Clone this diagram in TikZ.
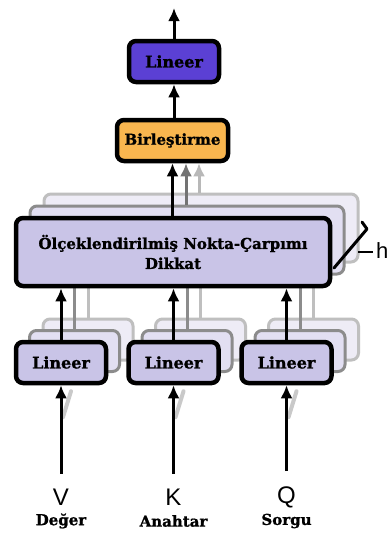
\documentclass[tikz,border=0pt]{standalone}
\usepackage{fontspec}
\setmainfont{DejaVu Serif}[BoldFeatures={FakeBold=1.2}]
\newfontfamily\symfont{Liberation Sans}
\usetikzlibrary{arrows.meta,calc}
\definecolor{linpurple}{HTML}{5B40D4}
\definecolor{mergeorange}{HTML}{F9B64F}
\definecolor{lavender}{HTML}{C9C4E7}
\definecolor{lavendertwo}{HTML}{E2DFF2}
\definecolor{lavenderthree}{HTML}{EEECF6}
\tikzset{
  box/.style={draw=black, line width=4.5pt, rounded corners=7pt, align=center,
    font=\bfseries\fontsize{16}{19}\selectfont, inner sep=0pt},
  ghosttwo/.style={draw=black!45, line width=3pt, rounded corners=7pt, fill=lavendertwo, inner sep=0pt},
  ghostthree/.style={draw=black!25, line width=3pt, rounded corners=7pt, fill=lavenderthree, inner sep=0pt},
  tip/.style={-{Latex[length=13pt,width=12pt]}},
  arr/.style={line width=3pt, tip},
  grayarr/.style={line width=3pt, draw=black!55, tip, fill=black!55},
  lightarr/.style={line width=3pt, draw=black!28, tip, fill=black!28},
  ghostline/.style={line width=3pt},
  symlab/.style={font=\symfont\fontsize{24}{24}\selectfont, inner sep=0pt},
  wordlab/.style={font=\bfseries\fontsize{15}{16}\selectfont, inner sep=0pt},
}
\begin{document}
\begin{tikzpicture}[x=1pt,y=-1pt]
\useasboundingbox (0,0) rectangle (390,533);
\fill[white] (0,0) rectangle (390,533);

% stacked heads of the attention block
\node[ghostthree, minimum width=314pt, minimum height=68pt] (att3) at (201,228) {};
\node[ghosttwo, minimum width=314pt, minimum height=68pt] (att2) at (187,240) {};

% stacked heads of the three linear projections
\foreach \i/\cx in {1/61,2/173.5,3/286.5}{
  \node[ghostthree, minimum width=90pt, minimum height=41pt] (lthree\i) at (\cx+27,339.5) {};
  \node[ghosttwo, minimum width=90pt, minimum height=41pt] (ltwo\i) at (\cx+13.5,351) {};
  \draw[ghostline, draw=black!25] (lthree\i.north) -- (att3.south -| lthree\i.north);
  \draw[ghostline, draw=black!45] (ltwo\i.north) -- (att2.south -| ltwo\i.north);
}

% main blocks
\node[box, fill=lavender, minimum width=314pt, minimum height=68pt,
  font=\bfseries\fontsize{15}{20}\selectfont] (att) at (173,252)
  {Ölçeklendirilmiş Nokta-Çarpımı\\Dikkat};
\node[box, fill=mergeorange, minimum width=111pt, minimum height=41pt,
  font=\bfseries\fontsize{15}{18}\selectfont] (merge) at (172.5,140.5) {Birleştirme};
\node[box, fill=linpurple, minimum width=90pt, minimum height=41pt] (out) at (174,61.5) {Lineer};
\node[box, fill=lavender, minimum width=90pt, minimum height=41pt] (lin1) at (61,362.5) {Lineer};
\node[box, fill=lavender, minimum width=90pt, minimum height=41pt] (lin2) at (173.5,362.5) {Lineer};
\node[box, fill=lavender, minimum width=90pt, minimum height=41pt] (lin3) at (286.5,362.5) {Lineer};

% input labels
\node[symlab] (V) at (61,497) {V};
\node[symlab] (K) at (173.5,497) {K};
\node[symlab] (Q) at (286.5,497) {Q};
\node[wordlab] (vw) at (61,521) {Değer};
\node[wordlab] (kw) at (173.5,521) {Anahtar};
\node[wordlab] (qw) at (286.5,521) {Sorgu};

% inputs into the projections, with their soft shadows
\foreach \l/\t in {V/lin1,K/lin2,Q/lin3}{
  \draw[line width=4pt, draw=black!35, opacity=0.6, line cap=round]
    ([xshift=2pt,yshift=-32pt]\t.south) -- ([xshift=10pt,yshift=-6pt]\t.south);
  \draw[arr] ([yshift=15pt]\l.north) -- (\t.south);
}

% projections into attention
\foreach \t in {1,2,3}{
  \draw[arr] (lin\t.north) -- (att.south -| lin\t.north);
}

% attention heads into the concatenation
\draw[lightarr] (att3.north -| 199,0) -- (merge.south -| 199,0);
\draw[grayarr] (att2.north -| 186,0) -- (merge.south -| 186,0);
\draw[arr] (att.north -| merge.south) -- (merge.south);
\draw[arr] (merge.north -| out.south) -- (out.south);
\coordinate (top) at (174,8);
\draw[arr] (out.north) -- (top);

% head-count bracket
\coordinate (hb1) at (334,268);
\coordinate (hb2) at (367,229);
\coordinate (hb3) at (362,222);
\coordinate (hl1) at (358,252);
\coordinate (hl2) at (373,252);
\draw[line width=3pt, line cap=round, line join=round] (hb1) -- (hb2) -- (hb3);
\draw[line width=1.5pt] (hl1) -- (hl2);
\node[symlab, anchor=west, font=\symfont\fontsize{22}{22}\selectfont] (hlab) at (376,251) {h};
\end{tikzpicture}
\end{document}
